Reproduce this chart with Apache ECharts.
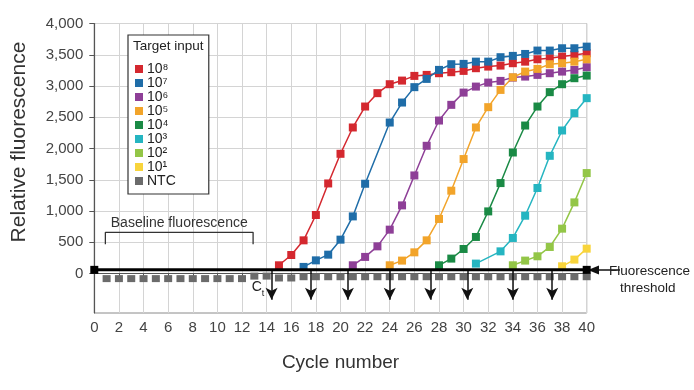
<!DOCTYPE html>
<html><head><meta charset="utf-8">
<script src="https://cdn.jsdelivr.net/npm/echarts@6/dist/echarts.min.js"></script>
<style>html,body{margin:0;padding:0;background:#fff}#c{width:694px;height:390px}</style>
</head><body><div id="c"></div>
<script>
// ---- data ----
const seriesNames = ['10⁸','10⁷','10⁶','10⁵','10⁴','10³','10²','10¹','NTC'];
const seriesColors = ['#d4282f','#1f6da8','#8e3f97','#f2a42a','#1a8a45','#25b5c1','#93c647','#f8d43c','#6b6b6b'];

const cycles108 = [15,16,17,18,19,20,21,22,23,24,25,26,27,28,29,30,31,32,33,34,35,36,37,38,39,40];
const values108 = [133,298,532,937,1442,1916,2337,2672,2886,3029,3087,3162,3178,3205,3221,3242,3285,3311,3327,3365,3390,3428,3445,3471,3498,3525];

const cycles107 = [17,18,19,20,21,22,24,25,26,27,28,29,30,31,32,33,34,35,36,37,38,39,40];
const values107 = [107,212,303,543,915,1437,2416,2736,2982,3114,3258,3349,3354,3390,3390,3461,3482,3513,3567,3567,3604,3604,3630];

const cycles106 = [21,22,23,24,25,26,27,28,29,30,31,32,33,34,35,36,37,38,39,40];
const values106 = [133,267,436,703,1091,1570,2044,2448,2699,2895,2991,3055,3082,3135,3151,3178,3205,3231,3258,3301];

const cycles105 = [24,25,26,27,28,29,30,31,32,33,34,35,36,37,38,39,40];
const values105 = [133,208,340,532,874,1326,1832,2337,2662,2938,3140,3231,3274,3349,3365,3390,3428];

const cycles104 = [28,29,30,31,32,33,34,35,36,37,38,39,40];
const values104 = [133,240,394,586,995,1448,1937,2368,2672,2902,3029,3125,3167];

const cycles103 = [31,33,34,35,36,37,38,39,40];
const values103 = [160,356,570,926,1369,1884,2289,2566,2806];

const cycles102 = [34,35,36,37,38,39,40];
const values102 = [133,208,277,426,719,1139,1608];

const cycles101 = [38,39,40];
const values101 = [117,224,399];

const cyclesNTC = [1,2,3,4,5,6,7,8,9,10,11,12,13,14,15,16,17,18,19,20,21,22,23,24,25,26,27,28,29,30,31,32,33,34,35,36,37,38,39,40];
const valuesNTC = [-80,-80,-80,-80,-80,-80,-80,-80,-80,-80,-80,-80,-40,-40,-70,-70,-50,-50,-50,-50,-50,-50,-50,-50,-50,-50,-50,-50,-50,-50,-50,-50,-50,-50,-50,-50,-50,-50,-50,-50];

const thresholdCycles = [0,40];
const thresholdValue = 60;
const ctCycles = [14.4,17.6,20.6,24.0,27.3,30.3,34.0,37.2];
const ctArrowEnd = -420;
const baselineCycles = [0.9,12.9];
const baselineTop = 660, baselineBottom = 470;

const yTicks = [0,500,1000,1500,2000,2500,3000,3500,4000];

// ---- chart ----
const FONT = '"Liberation Sans", Arial, Helvetica, sans-serif';
const allCycles = [cycles108,cycles107,cycles106,cycles105,cycles104,cycles103,cycles102,cycles101,cyclesNTC];
const allValues = [values108,values107,values106,values105,values104,values103,values102,values101,valuesNTC];
const pair = (xs, ys) => xs.map((x,i)=>[x, ys[i]]);

const chart = echarts.init(document.getElementById('c'), null, {renderer:'canvas'});

const dataSeries = seriesNames.map((n,i)=>({
  name:n, type:'line', data: pair(allCycles[i], allValues[i]),
  symbol:'rect', symbolSize: i===8 ? [8,7] : 8,
  showSymbol:true,
  lineStyle:{color:seriesColors[i], width: i===8 ? 0 : 1.5},
  itemStyle:{color:seriesColors[i]},
  animation:false, z: i===8 ? 2 : 3, clip:false
}));

const option = {
  animation:false,
  textStyle:{fontFamily:FONT},
  grid:{left:94.3, right:107.3, top:23.5, bottom:77, show:true, borderColor:'#8a8a8a', borderWidth:1},
  legend:{
    data: seriesNames, orient:'vertical', left:128, top:35,
    padding:[27,33,6,7], itemGap:0, itemWidth:8, itemHeight:8, icon:'rect',
    borderColor:'#333', borderWidth:1.2, selectedMode:false, backgroundColor:'#fff', z:10,
    textStyle:{fontSize:14, color:'#222', fontFamily:FONT, lineHeight:13.5, padding:[0,0,0,-1]}
  },
  graphic:[
    {type:'text', left:133, top:39, z:100, style:{text:'Target input', fontSize:13.5, fill:'#222', fontFamily:FONT}},
    {type:'text', x:19, y:142, rotation:Math.PI/2,
      style:{text:'Relative fluorescence', fontSize:21, fill:'#333', fontFamily:FONT, align:'center', verticalAlign:'middle'}},
    {type:'line', shape:{x1:620, y1:270, x2:597, y2:270}, style:{stroke:'#111', lineWidth:1.5}},
    {type:'polygon', shape:{points:[[588,270],[599,265.5],[599,274.5]]}, style:{fill:'#111'}},
    {type:'text', left:609, top:264, style:{text:'Fluorescence', fontSize:13.5, fill:'#222', fontFamily:FONT}},
    {type:'text', left:620, top:281, style:{text:'threshold', fontSize:13.5, fill:'#222', fontFamily:FONT}}
  ],
  xAxis:{
    type:'value', min:0, max:40, interval:2,
    name:'Cycle number', nameLocation:'middle', nameGap:40,
    nameTextStyle:{fontSize:19, color:'#333', fontFamily:FONT},
    axisLine:{show:true, lineStyle:{color:'#555', width:1.2}},
    axisTick:{show:true, length:5, lineStyle:{color:'#555'}},
    axisLabel:{fontSize:15, color:'#444', margin:7, fontFamily:FONT},
    splitLine:{show:true, lineStyle:{color:'#d4d4d4', width:1}}
  },
  yAxis:{
    type:'value', min:-630, max:4000,
    axisLine:{show:true, onZero:false, lineStyle:{color:'#555', width:1.2}},
    axisTick:{show:true, length:5, customValues:yTicks, lineStyle:{color:'#555'}},
    axisLabel:{fontSize:15, color:'#444', margin:11, customValues:yTicks, fontFamily:FONT,
      formatter:v=>v.toLocaleString('en-US')},
    splitLine:{show:true, lineStyle:{color:'#d4d4d4', width:1}}
  },
  series:[
    ...dataSeries,
    {
      name:'threshold', type:'line', data: thresholdCycles.map(c=>[c,thresholdValue]),
      symbol:'rect', symbolSize:8, lineStyle:{color:'#000', width:3}, itemStyle:{color:'#000'},
      clip:false, z:5,
      markLine:{
        silent:true, symbol:['none','arrow'], symbolSize:[9,12],
        label:{show:false}, lineStyle:{color:'#111', width:1.5, type:'solid'},
        data: ctCycles.map(c=>[{coord:[c,thresholdValue]},{coord:[c,ctArrowEnd]}])
      },
      markPoint:{
        silent:true, symbol:'circle', symbolSize:1, itemStyle:{color:'rgba(0,0,0,0)'},
        data:[{coord:[13.3,-250], label:{show:true, position:'inside',
          formatter:'{c|C}{t|t}',
          rich:{c:{fontSize:14, color:'#222', fontFamily:FONT, verticalAlign:'top', lineHeight:18},
                t:{fontSize:9, color:'#222', fontFamily:FONT, verticalAlign:'bottom', lineHeight:18}}}}]
      }
    },
    {
      name:'baseline', type:'line',
      data:[[baselineCycles[0],baselineBottom],[baselineCycles[0],baselineTop],[baselineCycles[1],baselineTop],[baselineCycles[1],baselineBottom]],
      symbol:'none', lineStyle:{color:'#333', width:1.3}, z:4,
      markPoint:{
        silent:true, symbol:'circle', symbolSize:1, itemStyle:{color:'rgba(0,0,0,0)'},
        data:[{coord:[(baselineCycles[0]+baselineCycles[1])/2, 800], label:{show:true, position:'inside',
          formatter:'Baseline fluorescence', fontSize:14, color:'#333', fontFamily:FONT}}]
      }
    }
  ]
};
chart.setOption(option);
</script></body></html>
